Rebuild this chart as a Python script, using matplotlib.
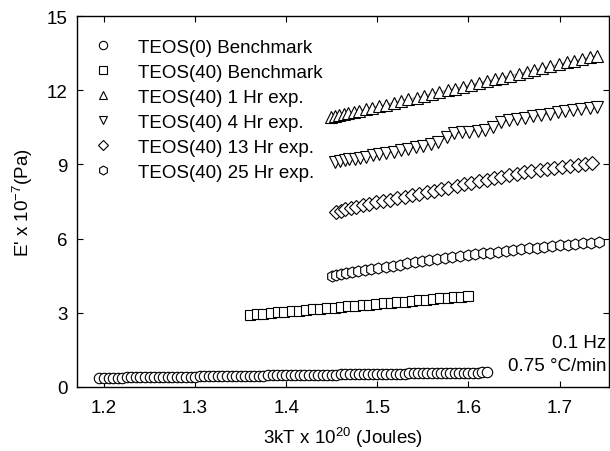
import matplotlib
matplotlib.use("Agg")
import matplotlib.pyplot as plt

plt.rcParams['font.family'] = ['Liberation Sans', 'DejaVu Sans']
plt.rcParams['mathtext.default'] = 'regular'

labels = ["TEOS(0) Benchmark", "TEOS(40) Benchmark", "TEOS(40) 1 Hr exp.",
          "TEOS(40) 4 Hr exp.", "TEOS(40) 13 Hr exp.", "TEOS(40) 25 Hr exp."]

x_teos0 = [1.195, 1.200, 1.205, 1.210, 1.215, 1.220, 1.225, 1.230, 1.235, 1.240,
           1.245, 1.250, 1.255, 1.260, 1.265, 1.270, 1.275, 1.280, 1.285, 1.290,
           1.295, 1.300, 1.305, 1.310, 1.315, 1.320, 1.325, 1.330, 1.335, 1.340,
           1.345, 1.350, 1.355, 1.360, 1.365, 1.370, 1.375, 1.380, 1.385, 1.390,
           1.395, 1.400, 1.405, 1.410, 1.415, 1.420, 1.425, 1.430, 1.435, 1.440,
           1.445, 1.450, 1.455, 1.460, 1.465, 1.470, 1.475, 1.480, 1.485, 1.490,
           1.495, 1.500, 1.505, 1.510, 1.515, 1.520, 1.525, 1.530, 1.535, 1.540,
           1.545, 1.550, 1.555, 1.560, 1.565, 1.570, 1.575, 1.580, 1.585, 1.590,
           1.595, 1.600, 1.605, 1.610, 1.615, 1.620]
y_teos0 = [0.37, 0.37, 0.38, 0.38, 0.38, 0.38, 0.39, 0.39, 0.39, 0.39,
           0.40, 0.40, 0.40, 0.40, 0.41, 0.41, 0.41, 0.41, 0.42, 0.42,
           0.42, 0.42, 0.43, 0.43, 0.43, 0.43, 0.44, 0.44, 0.44, 0.44,
           0.45, 0.45, 0.45, 0.45, 0.46, 0.46, 0.46, 0.47, 0.47, 0.47,
           0.47, 0.48, 0.48, 0.48, 0.48, 0.49, 0.49, 0.49, 0.49, 0.50,
           0.50, 0.50, 0.50, 0.51, 0.51, 0.51, 0.51, 0.52, 0.52, 0.52,
           0.52, 0.53, 0.53, 0.53, 0.54, 0.54, 0.54, 0.54, 0.55, 0.55,
           0.55, 0.55, 0.56, 0.56, 0.56, 0.56, 0.57, 0.57, 0.57, 0.57,
           0.58, 0.58, 0.58, 0.58, 0.59, 0.59]

x_bench40 = [1.360, 1.368, 1.375, 1.383, 1.391, 1.398, 1.406, 1.414, 1.422, 1.429,
             1.437, 1.445, 1.453, 1.460, 1.468, 1.476, 1.484, 1.491, 1.499, 1.507,
             1.515, 1.522, 1.530, 1.538, 1.546, 1.553, 1.561, 1.569, 1.577, 1.584,
             1.592, 1.600]
y_bench40 = [2.92, 2.94, 2.97, 2.99, 3.02, 3.04, 3.07, 3.09, 3.11, 3.14,
             3.16, 3.19, 3.21, 3.24, 3.26, 3.28, 3.31, 3.33, 3.36, 3.38,
             3.41, 3.43, 3.45, 3.48, 3.50, 3.53, 3.55, 3.58, 3.60, 3.62,
             3.65, 3.68]

x_1hr = [1.449, 1.454, 1.458, 1.463, 1.468, 1.474, 1.480, 1.487, 1.494, 1.502,
         1.510, 1.518, 1.526, 1.534, 1.543, 1.551, 1.560, 1.568, 1.577, 1.585,
         1.594, 1.603, 1.611, 1.620, 1.629, 1.637, 1.646, 1.655, 1.664, 1.672,
         1.681, 1.690, 1.699, 1.708, 1.716, 1.725, 1.733, 1.741]
y_1hr = [10.90, 10.94, 10.98, 11.02, 11.06, 11.11, 11.17, 11.23, 11.29, 11.35,
         11.42, 11.49, 11.56, 11.63, 11.70, 11.77, 11.85, 11.92, 12.00, 12.06,
         12.14, 12.22, 12.29, 12.36, 12.44, 12.51, 12.59, 12.66, 12.74, 12.81,
         12.89, 12.96, 13.04, 13.12, 13.19, 13.26, 13.33, 13.40]

x_4hr = [1.454, 1.459, 1.464, 1.469, 1.475, 1.481, 1.488, 1.495, 1.502, 1.510,
         1.518, 1.526, 1.534, 1.542, 1.550, 1.559, 1.567, 1.576, 1.584, 1.593,
         1.601, 1.610, 1.618, 1.627, 1.636, 1.644, 1.653, 1.662, 1.671, 1.680,
         1.689, 1.698, 1.706, 1.715, 1.724, 1.733, 1.741]
y_4hr = [9.11, 9.14, 9.17, 9.20, 9.23, 9.27, 9.31, 9.36, 9.41, 9.46,
         9.52, 9.58, 9.64, 9.70, 9.76, 9.83, 9.92, 10.10, 10.26, 10.30,
         10.33, 10.36, 10.40, 10.50, 10.73, 10.78, 10.83, 10.88, 10.94, 10.99,
         11.04, 11.10, 11.15, 11.20, 11.25, 11.30, 11.34]

x_13hr = [1.455, 1.460, 1.465, 1.471, 1.477, 1.484, 1.491, 1.498, 1.506, 1.514,
          1.522, 1.530, 1.538, 1.546, 1.554, 1.562, 1.570, 1.578, 1.587, 1.595,
          1.603, 1.611, 1.620, 1.628, 1.636, 1.644, 1.653, 1.661, 1.669, 1.678,
          1.686, 1.694, 1.703, 1.711, 1.720, 1.728, 1.736]
y_13hr = [7.08, 7.13, 7.18, 7.23, 7.28, 7.34, 7.40, 7.46, 7.52, 7.58,
          7.64, 7.70, 7.76, 7.82, 7.88, 7.94, 8.00, 8.06, 8.13, 8.19,
          8.25, 8.31, 8.38, 8.44, 8.50, 8.56, 8.62, 8.68, 8.73, 8.78,
          8.83, 8.87, 8.91, 8.95, 8.98, 9.01, 9.04]

x_25hr = [1.450, 1.455, 1.460, 1.466, 1.472, 1.479, 1.486, 1.493, 1.501, 1.509,
          1.517, 1.525, 1.533, 1.541, 1.549, 1.557, 1.566, 1.574, 1.582, 1.591,
          1.599, 1.607, 1.616, 1.624, 1.632, 1.641, 1.649, 1.658, 1.666, 1.675,
          1.683, 1.692, 1.700, 1.709, 1.717, 1.726, 1.734, 1.743]
y_25hr = [4.50, 4.54, 4.58, 4.62, 4.66, 4.70, 4.74, 4.78, 4.83, 4.87,
          4.91, 4.95, 5.00, 5.04, 5.08, 5.12, 5.16, 5.20, 5.24, 5.28,
          5.32, 5.36, 5.40, 5.43, 5.47, 5.50, 5.54, 5.57, 5.60, 5.64,
          5.67, 5.70, 5.73, 5.76, 5.79, 5.82, 5.84, 5.87]

series = [(x_teos0, y_teos0, 'o'), (x_bench40, y_bench40, 's'),
          (x_1hr, y_1hr, '^'), (x_4hr, y_4hr, 'v'),
          (x_13hr, y_13hr, 'D'), (x_25hr, y_25hr, 'h')]
msizes = [7.5, 6.8, 8, 8, 7, 8]

fig = plt.figure(figsize=(6.1, 4.52), dpi=100)
ax = fig.add_axes([77/610, 64/452, 532/610, 371/452])

for (x, y, m), lab, ms in zip(series, labels, msizes):
    ax.plot(x, y, '-', color='0.65', lw=1.0, zorder=1)
    ax.plot(x, y, linestyle='none', marker=m, ms=ms, mfc='white', mec='black',
            mew=0.8, label=lab, zorder=2)

ax.set_xlim(1.1704, 1.7542)
ax.set_ylim(0, 15)
ax.set_xticks([1.2, 1.3, 1.4, 1.5, 1.6, 1.7])
ax.set_xticklabels(["1.2", "1.3", "1.4", "1.5", "1.6", "1.7"])
ax.set_yticks([0, 3, 6, 9, 12, 15])
ax.set_yticklabels(["0", "3", "6", "9", "12", "15"])
ax.tick_params(direction='in', top=True, right=True, labelsize=13.5, length=4,
               width=0.8)
ax.tick_params(axis='x', pad=9)
ax.tick_params(axis='y', pad=7)
for s in ax.spines.values():
    s.set_linewidth(1.0)

ax.set_xlabel("3kT x 10$^{20}$ (Joules)", fontsize=13.5, labelpad=6)
ax.set_ylabel("E' x 10$^{-7}$(Pa)", fontsize=13.5, labelpad=8)

ax.legend(loc='upper left', bbox_to_anchor=(0.0, 0.985), frameon=False,
          fontsize=13.5, handletextpad=1.37, labelspacing=0.42, borderaxespad=0.6,
          handlelength=1.0, borderpad=0.3, markerscale=0.8)

ax.text(0.995, 0.121, "0.1 Hz", transform=ax.transAxes, ha='right', va='center',
        fontsize=13.5)
ax.text(0.995, 0.059, "0.75 °C/min", transform=ax.transAxes, ha='right', va='center',
        fontsize=13.5)

fig.savefig("out.png", dpi=100)
